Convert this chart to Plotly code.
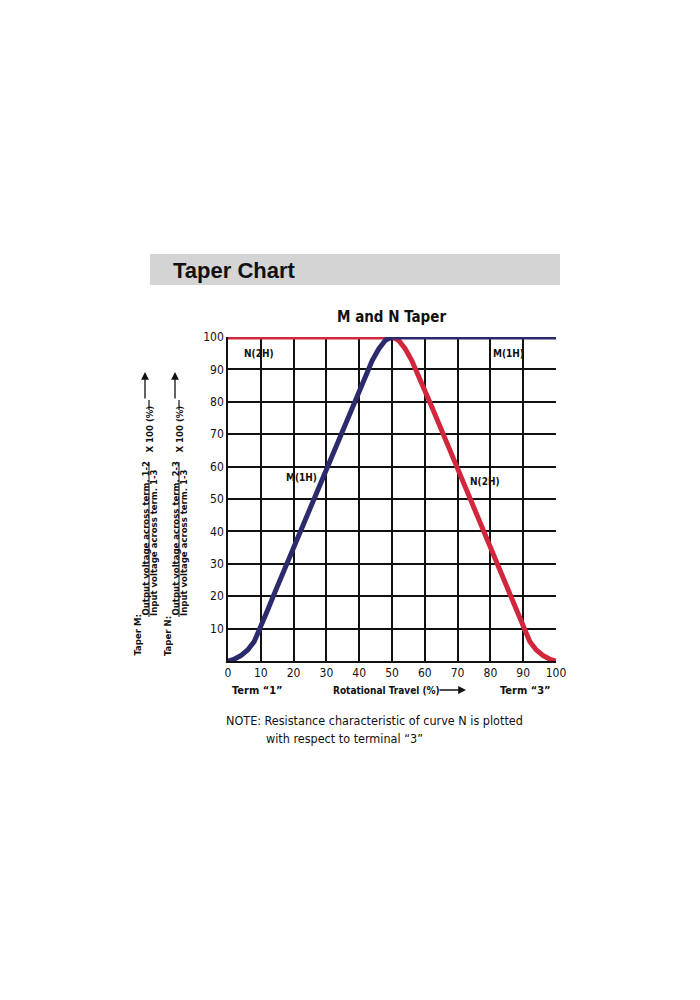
import plotly.graph_objects as go

# ---- data ----
m_x = [0, 2, 4, 6, 8, 10, 12, 14, 18, 22, 26, 30, 34, 38, 42, 44, 46, 48, 50, 60, 70, 80, 90, 100]
m_y = [0, 0.6, 1.7, 3.4, 6.0, 10.3, 15.5, 20.5, 30.2, 40.0, 49.7, 59.4, 69.1, 78.8, 88.3, 92.8, 96.4, 99.0, 100, 100, 100, 100, 100, 100]
n_x = [0, 10, 20, 30, 40, 50, 52, 54, 56, 58, 62, 66, 70, 74, 78, 82, 86, 88, 90, 92, 94, 96, 98, 100]
n_y = [100, 100, 100, 100, 100, 100, 99.0, 96.4, 92.8, 88.3, 78.8, 69.1, 59.4, 49.7, 40.0, 30.2, 20.5, 15.5, 10.3, 6.0, 3.4, 1.7, 0.6, 0]
x_ticks = [0, 10, 20, 30, 40, 50, 60, 70, 80, 90, 100]
y_ticks = [10, 20, 30, 40, 50, 60, 70, 80, 90, 100]
curve_labels = [("N(2H)", 9.5, 95), ("M(1H)", 85.5, 95), ("M(1H)", 22.5, 56.5), ("N(2H)", 78.5, 55.5)]

BLUE = "#2b2a6c"
RED = "#d2263d"
NARROW = "DejaVu Sans Condensed, Roboto, sans-serif"
ARIAL = "Liberation Sans, Arial, sans-serif"

# plot area in pixels
L, R, T, B = 228, 556, 337, 661
W, H = 700, 1000


def px(xp):
    return (xp - L) / (R - L)


def py(yp):
    return (B - yp) / (B - T)


fig = go.Figure()
fig.add_trace(go.Scatter(x=n_x, y=n_y, mode="lines", line=dict(color=RED, width=5),
                         cliponaxis=False, hoverinfo="skip"))
fig.add_trace(go.Scatter(x=m_x, y=m_y, mode="lines", line=dict(color=BLUE, width=5),
                         cliponaxis=False, hoverinfo="skip"))

ann = []
shapes = []

# header band
shapes.append(dict(type="rect", xref="paper", yref="paper", x0=px(150), x1=px(560),
                   y0=py(285), y1=py(254), fillcolor="#d4d4d4", line=dict(width=0), layer="below"))
ann.append(dict(text="<b>Taper Chart</b>", xref="paper", yref="paper", x=px(171), y=py(270),
                xanchor="left", yanchor="middle", showarrow=False,
                font=dict(family=ARIAL, size=22, color="#111")))
ann.append(dict(text="<b>M and N Taper</b>", xref="paper", yref="paper", x=px(391), y=py(317),
                xanchor="center", yanchor="middle", showarrow=False,
                font=dict(family=NARROW, size=15, color="#111")))

# curve labels
for t, xv, yv in curve_labels:
    ann.append(dict(text=f"<b>{t}</b>", x=xv, y=yv, xref="x", yref="y", showarrow=False,
                    font=dict(family=NARROW, size=10, color="#111")))

# x axis labels below
ann.append(dict(text="<b>Term “1”</b>", xref="paper", yref="paper", x=px(230), y=py(690),
                xanchor="left", yanchor="middle", showarrow=False,
                font=dict(family=NARROW, size=11, color="#111")))
ann.append(dict(text="<b>Term “3”</b>", xref="paper", yref="paper", x=px(553), y=py(690),
                xanchor="right", yanchor="middle", showarrow=False,
                font=dict(family=NARROW, size=11, color="#111")))
ann.append(dict(text="<b>Rotational Travel (%)</b>", xref="paper", yref="paper", x=px(331), y=py(690),
                xanchor="left", yanchor="middle", showarrow=False,
                font=dict(family=NARROW, size=10, color="#111")))
ann.append(dict(text="", xref="paper", yref="paper", x=px(466), y=py(690), ax=-28, ay=0,
                showarrow=True, arrowhead=2, arrowsize=1.2, arrowwidth=1.3, arrowcolor="#111"))

# note
ann.append(dict(text="NOTE: Resistance characteristic of curve N is plotted", xref="paper", yref="paper",
                x=px(224), y=py(720), xanchor="left", yanchor="middle", showarrow=False,
                font=dict(family=NARROW, size=12.5, color="#111")))
ann.append(dict(text="with respect to terminal “3”", xref="paper", yref="paper",
                x=px(264), y=py(738), xanchor="left", yanchor="middle", showarrow=False,
                font=dict(family=NARROW, size=12.5, color="#111")))

# rotated y-axis labels
def ylabel(prefix, num, den, xc):
    f = dict(family=NARROW, size=9.5, color="#111")
    ann.append(dict(text=f"<b>{prefix}</b>", xref="paper", yref="paper", x=px(xc - 4), y=py(658),
                    xanchor="center", yanchor="bottom", textangle=-90, showarrow=False, font=f))
    ann.append(dict(text=f"<b>{num}</b>", xref="paper", yref="paper", x=px(xc + 4), y=py(618),
                    xanchor="center", yanchor="bottom", textangle=-90, showarrow=False, font=f))
    ann.append(dict(text=f"<b>{den}</b>", xref="paper", yref="paper", x=px(xc + 12), y=py(618),
                    xanchor="center", yanchor="bottom", textangle=-90, showarrow=False, font=f))
    shapes.append(dict(type="line", xref="paper", yref="paper", x0=px(xc + 8), x1=px(xc + 8),
                       y0=py(617), y1=py(462), line=dict(color="#111", width=1)))
    ann.append(dict(text="<b>X 100 (%)</b>", xref="paper", yref="paper", x=px(xc + 8), y=py(455),
                    xanchor="center", yanchor="bottom", textangle=-90, showarrow=False, font=f))
    shapes.append(dict(type="line", xref="paper", yref="paper", x0=px(xc + 8), x1=px(xc + 8),
                       y0=py(410), y1=py(400), line=dict(color="#111", width=1.2)))
    ann.append(dict(text="", xref="paper", yref="paper", x=px(xc + 4), y=py(372), ax=0, ay=28,
                    showarrow=True, arrowhead=2, arrowsize=1.2, arrowwidth=1.3, arrowcolor="#111"))


ylabel("Taper M:", "Output voltage across term. 1-2", "Input voltage across term. 1-3", 141)
ylabel("Taper N:", "Output voltage across term. 2-3", "Input voltage across term. 1-3", 171)

fig.update_layout(
    width=W, height=H,
    margin=dict(l=L, r=W - R, t=T, b=H - B, pad=0),
    paper_bgcolor="white", plot_bgcolor="white",
    showlegend=False,
    annotations=ann, shapes=shapes,
    xaxis=dict(range=[0, 100], tickvals=x_ticks, ticktext=[str(v) for v in x_ticks],
               showgrid=True, gridcolor="#111", gridwidth=1.5, zeroline=False,
               showline=True, linecolor="#111", linewidth=1.5, ticks="",
               tickfont=dict(family=NARROW, size=12, color="#111")),
    yaxis=dict(range=[0, 100], tickvals=y_ticks, ticktext=[str(v) for v in y_ticks],
               showgrid=True, gridcolor="#111", gridwidth=1.5, zeroline=False,
               showline=True, linecolor="#111", linewidth=1.5, ticks="",
               tickfont=dict(family=NARROW, size=12, color="#111")),
)

fig.write_html("out.html")
